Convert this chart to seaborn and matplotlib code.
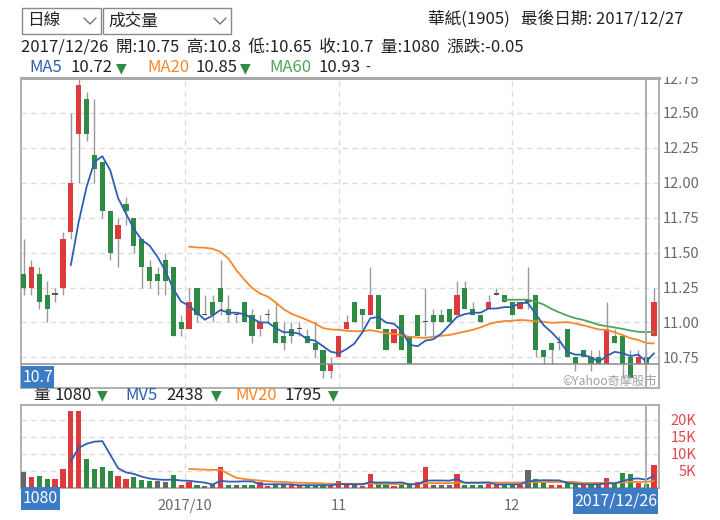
import numpy as np
import pandas as pd
import matplotlib
matplotlib.use("Agg")
import matplotlib.pyplot as plt
from matplotlib.patches import Rectangle
from matplotlib.lines import Line2D
import seaborn as sns

# ---- daily bars (trading-day index 0..80) ----
opens = [11.35, 11.25, 11.35, 11.20, 11.20, 11.25, 11.65, 12.35, 12.60, 12.20,
         12.15, 11.80, 11.60, 11.85, 11.75, 11.60, 11.40, 11.35, 11.45, 11.40,
         11.00, 10.95, 11.25, 11.05, 11.15, 11.25, 11.10, 11.05, 11.15, 11.05,
         10.95, 11.05, 11.00, 10.90, 10.95, 10.95, 10.90, 10.85, 10.80, 10.65,
         10.75, 10.95, 11.15, 11.10, 11.05, 11.20, 10.95, 10.85, 11.05, 10.90,
         11.05, 11.00, 11.05, 11.05, 11.10, 11.05, 11.25, 11.10, 11.05, 11.10,
         11.20, 11.20, 11.15, 11.10, 11.15, 11.20, 10.80, 10.85, 10.85, 10.95,
         10.75, 10.80, 10.75, 10.75, 10.70, 10.90, 10.90, 10.75, 10.70, 10.75,
         10.90]
highs = [11.60, 11.45, 11.40, 11.30, 11.25, 11.65, 12.50, 12.75, 12.65, 12.60,
         12.15, 11.80, 11.75, 11.90, 11.75, 11.60, 11.45, 11.40, 11.50, 11.40,
         11.05, 11.25, 11.25, 11.20, 11.20, 11.45, 11.20, 11.05, 11.15, 11.10,
         11.05, 11.10, 11.15, 11.00, 11.00, 11.00, 10.95, 11.00, 10.80, 10.75,
         10.90, 11.05, 11.15, 11.10, 11.40, 11.20, 10.95, 10.95, 11.05, 10.90,
         11.05, 11.25, 11.10, 11.10, 11.10, 11.30, 11.30, 11.15, 11.05, 11.20,
         11.25, 11.20, 11.15, 11.15, 11.40, 11.20, 10.80, 10.85, 10.90, 10.95,
         10.75, 10.80, 10.80, 10.80, 11.15, 10.95, 10.90, 10.80, 10.80, 10.80,
         11.25]
lows = [11.20, 11.20, 11.10, 11.00, 11.15, 11.20, 11.60, 12.00, 12.30, 12.00,
        11.75, 11.45, 11.40, 11.70, 11.50, 11.25, 11.25, 11.20, 11.20, 10.90,
        10.90, 10.95, 11.00, 11.05, 11.00, 11.05, 11.00, 11.00, 11.00, 10.85,
        10.90, 11.00, 10.85, 10.80, 10.85, 10.90, 10.85, 10.75, 10.60, 10.60,
        10.75, 10.95, 11.00, 10.95, 11.05, 10.95, 10.80, 10.85, 10.80, 10.70,
        10.90, 10.90, 10.90, 11.00, 11.00, 11.05, 11.10, 11.05, 11.00, 11.10,
        11.20, 11.15, 11.05, 11.10, 11.10, 10.75, 10.70, 10.70, 10.80, 10.75,
        10.65, 10.75, 10.65, 10.70, 10.70, 10.85, 10.60, 10.60, 10.70, 10.65,
        10.90]
closes = [11.25, 11.40, 11.15, 11.10, 11.20, 11.60, 12.00, 12.70, 12.35, 12.10,
          11.80, 11.50, 11.70, 11.80, 11.55, 11.40, 11.30, 11.30, 11.30, 10.90,
          10.95, 11.15, 11.05, 11.05, 11.05, 11.15, 11.05, 11.05, 11.00, 10.90,
          11.00, 11.05, 10.85, 10.85, 10.90, 10.95, 10.85, 10.80, 10.65, 10.70,
          10.90, 11.00, 11.00, 11.05, 11.20, 10.95, 10.80, 10.95, 10.80, 10.70,
          10.90, 11.00, 11.00, 11.00, 11.00, 11.20, 11.10, 11.05, 11.00, 11.15,
          11.20, 11.15, 11.05, 11.15, 11.15, 10.80, 10.75, 10.80, 10.85, 10.75,
          10.70, 10.75, 10.70, 10.70, 10.95, 10.85, 10.70, 10.60, 10.75, 10.70,
          11.15]
volumes = [4800, 3300, 3500, 2500, 2500, 5500, 25000, 23500, 8500, 5600,
           6300, 5100, 3500, 2500, 3300, 2350, 2200, 2200, 1900, 3800,
           800, 1900, 800, 600, 1100, 6100, 800, 800, 1000, 1000,
           1900, 700, 1000, 900, 800, 600, 900, 900, 1000, 600,
           2200, 900, 900, 600, 4100, 1500, 1000, 700, 900, 1100,
           1900, 6200, 900, 900, 900, 4000, 900, 1000, 900, 1300,
           1100, 1000, 1050, 1000, 5300, 2600, 1500, 900, 900, 1500,
           1260, 900, 800, 1000, 2900, 1150, 4300, 4050, 1610, 1080,
           6800]

date_ticks = [20.5, 40, 62]
date_labels = ["2017/10", "11", "12"]
price_ticks = [10.75, 11.00, 11.25, 11.50, 11.75, 12.00, 12.25, 12.50, 12.75]
vol_ticks = [5000, 10000, 15000, 20000]
vol_tick_labels = ["5K", "10K", "15K", "20K"]

stock_title = "華紙(1905)"
last_date = "2017/12/27"
cursor_date = "2017/12/26"
cursor_idx = 79
vol_bar_ceiling = 22600

# ---- colours ----
RED = "#dc3a3c"
GREEN = "#2e8a45"
GRAY_BAR = "#666666"
WICK = "#9a9a9a"
C_MA5 = "#2f5fb3"
C_MA20 = "#f5882c"
C_MA60 = "#4ea55c"
BOX = "#3d7bc4"
BORDER = "#aaaaaa"
GRID = "#dcdcdc"

sns.set_theme(style="white")
plt.rcParams["font.family"] = ["Noto Sans CJK TC", "DejaVu Sans"]

df = pd.DataFrame({"open": opens, "high": highs, "low": lows,
                   "close": closes, "volume": volumes})
df["idx"] = np.arange(len(df))


def moving(series, n):
    m = series.rolling(n).mean()
    m.iloc[: n + 1] = np.nan
    return m


df["ma5"] = moving(df["close"], 5)
df["ma20"] = moving(df["close"], 20)
df["ma60"] = moving(df["close"], 60)
df["mv5"] = moving(df["volume"].astype(float), 5)
df["mv20"] = moving(df["volume"].astype(float), 20)

W, H = 720, 520
fig = plt.figure(figsize=(W / 100, H / 100), dpi=100)
fig.patch.set_facecolor("white")


def fx(px):
    return px / W


def fy(py):
    return 1 - py / H


ax_p = fig.add_axes([fx(21), fy(388), (659 - 21) / W, (388 - 78) / H])
ax_v = fig.add_axes([fx(21), fy(488), (659 - 21) / W, (488 - 405) / H])

xlim = (-0.32, 80.63)

# ---- price panel ----
up = df["close"] > df["open"]
down = df["close"] < df["open"]
body_col = np.where(up, RED, np.where(down, GREEN, "#555555"))
body_lo = np.minimum(df["open"], df["close"])
body_h = np.maximum((df["close"] - df["open"]).abs(), 0.008)

ax_p.vlines(df["idx"], df["low"], df["high"], color=WICK, lw=1.0, zorder=2)
ax_p.bar(df["idx"], body_h, bottom=body_lo, width=0.66, color=body_col,
         linewidth=0, zorder=3)
for col, c in [("ma60", C_MA60), ("ma20", C_MA20), ("ma5", C_MA5)]:
    sns.lineplot(data=df, x="idx", y=col, ax=ax_p, color=c, lw=1.3,
                 legend=False, zorder=4)

ax_p.axvline(cursor_idx, color="#a8a8a8", lw=1.3, zorder=5)
ax_p.axhline(df["close"][cursor_idx], color="#8c8c8c", lw=1.1, zorder=5)

ax_p.set_xlim(*xlim)
ax_p.set_ylim(10.531, 12.750)
ax_p.set_yticks(price_ticks)
ax_p.set_yticklabels([f"{t:.2f}" for t in price_ticks])
ax_p.yaxis.tick_right()
ax_p.tick_params(axis="y", length=0, pad=2.5, labelsize=10.5,
                 labelcolor="#6a6a6a")
ax_p.set_xticks(date_ticks)
ax_p.tick_params(axis="x", length=0, labelbottom=False)
ax_p.grid(True, ls=(0, (4, 3)), color=GRID, lw=1)
ax_p.set_axisbelow(True)
ax_p.set_xlabel("")
ax_p.set_ylabel("")

# ---- volume panel ----
chg = df["close"].diff()
vol_col = np.where(chg > 0, RED, np.where(chg < 0, GREEN, GRAY_BAR))
ax_v.bar(df["idx"], np.minimum(df["volume"], vol_bar_ceiling), width=0.66,
         color=vol_col, linewidth=0, zorder=3)
sns.lineplot(data=df, x="idx", y="mv20", ax=ax_v, color=C_MA20, lw=1.3,
             legend=False, zorder=4)
sns.lineplot(data=df, x="idx", y="mv5", ax=ax_v, color=C_MA5, lw=1.3,
             legend=False, zorder=4)
ax_v.axvline(cursor_idx, color="#a8a8a8", lw=1.3, zorder=5)
ax_v.set_xlim(*xlim)
ax_v.set_ylim(0, 24400)
ax_v.set_yticks(vol_ticks)
ax_v.set_yticklabels(vol_tick_labels, ha="right")
ax_v.yaxis.tick_right()
ax_v.tick_params(axis="y", length=0, pad=27, labelsize=10.5,
                 labelcolor="#e2474c")
ax_v.set_xticks(date_ticks)
ax_v.set_xticklabels(date_labels)
ax_v.tick_params(axis="x", length=0, pad=8, labelsize=10.5,
                 labelcolor="#6a6a6a")
ax_v.grid(True, ls=(0, (4, 3)), color=GRID, lw=1)
ax_v.set_axisbelow(True)
ax_v.set_xlabel("")
ax_v.set_ylabel("")

for ax in (ax_p, ax_v):
    for s in ax.spines.values():
        s.set_color(BORDER)
        s.set_linewidth(1.3)
ax_p.spines["top"].set_linewidth(2.2)

# the top price label sits under the header strip, so its upper half is hidden
fig.add_artist(Rectangle((fx(660), fy(77)), 60 / W, 17 / H,
                         transform=fig.transFigure, color="white", lw=0,
                         zorder=8))

# ---- header ----
FS = 12


def dropdown(x0, x1, label):
    fig.add_artist(Rectangle((fx(x0), fy(34)), (x1 - x0) / W, 26 / H,
                             transform=fig.transFigure, fill=False,
                             ec="#8a8a8a", lw=1.0))
    fig.text(fx(x0 + 5), fy(21), label, fontsize=FS, va="center",
             color="#222222")
    cx = x1 - 11
    fig.add_artist(Line2D([fx(cx - 6), fx(cx), fx(cx + 6)],
                          [fy(18), fy(24), fy(18)],
                          transform=fig.transFigure, color="#777777", lw=1.0))


dropdown(22, 101, "日線")
dropdown(103, 231, "成交量")
fig.text(fx(683), fy(19), f"{stock_title}   最後日期: {last_date}",
         fontsize=FS, ha="right", va="center", color="#222222")

row = df.iloc[cursor_idx]
prev = df.iloc[cursor_idx - 1]
info = (f"{cursor_date}  開:{row['open']:g}  高:{row['high']:g}  "
        f"低:{row['low']:g}  收:{row['close']:g}  量:{int(row['volume'])}  "
        f"漲跌:{row['close'] - prev['close']:+.2f}")
fig.text(fx(21), fy(47), info, fontsize=FS, va="center", color="#222222")


def arrow(now, before):
    if now < before:
        return "▼", GREEN
    if now > before:
        return "▲", RED
    return "-", "#222222"


def stat_row(items, y):
    for (x_name, name, color, x_val, val_txt, x_arr, cur, pre) in items:
        fig.text(fx(x_name), fy(y), name, fontsize=FS, va="center",
                 color=color, zorder=9)
        fig.text(fx(x_val), fy(y), val_txt, fontsize=FS, va="center",
                 color="#222222", zorder=9)
        sym, sc = arrow(cur, pre)
        fig.text(fx(x_arr), fy(y), sym, fontsize=FS - 2, va="center",
                 color=sc, family=["DejaVu Sans"], zorder=9)


ma_items = []
for x_name, x_val, x_arr, col, lab, c in [
        (29, 70, 116, "ma5", "MA5", C_MA5),
        (147, 196, 240, "ma20", "MA20", C_MA20),
        (269, 319, 365, "ma60", "MA60", C_MA60)]:
    cur = round(df[col][cursor_idx], 2)
    pre = round(df[col][cursor_idx - 1], 2)
    ma_items.append((x_name, lab, c, x_val, f"{cur:.2f}", x_arr, cur, pre))
stat_row(ma_items, 68)

vol_items = []
for x_name, x_val, x_arr, col, lab, c in [
        (33, 54, 97, "volume", "量", "#222222"),
        (125, 166, 211, "mv5", "MV5", C_MA5),
        (235, 285, 328, "mv20", "MV20", C_MA20)]:
    cur = int(round(df[col][cursor_idx]))
    pre = int(round(df[col][cursor_idx - 1]))
    vol_items.append((x_name, lab, c, x_val, f"{cur}", x_arr, cur, pre))
stat_row(vol_items, 395)


# ---- value tags ----
def tag(x0, x1, y0, y1, txt):
    fig.add_artist(Rectangle((fx(x0), fy(y1)), (x1 - x0) / W, (y1 - y0) / H,
                             transform=fig.transFigure, color=BOX, lw=0,
                             zorder=10))
    fig.text(fx((x0 + x1) / 2), fy((y0 + y1) / 2), txt, fontsize=11.5,
             ha="center", va="center", color="white", zorder=11)


tag(21, 54, 366, 388, f"{row['close']:g}")
tag(21, 60, 487, 510, f"{int(row['volume'])}")
tag(573, 658, 488, 514, cursor_date)

fig.text(fx(657), fy(381), "©Yahoo奇摩股市", fontsize=8.8, ha="right",
         va="center", color="#a0a0a0")

fig.savefig("out.png", dpi=100, facecolor="white")
